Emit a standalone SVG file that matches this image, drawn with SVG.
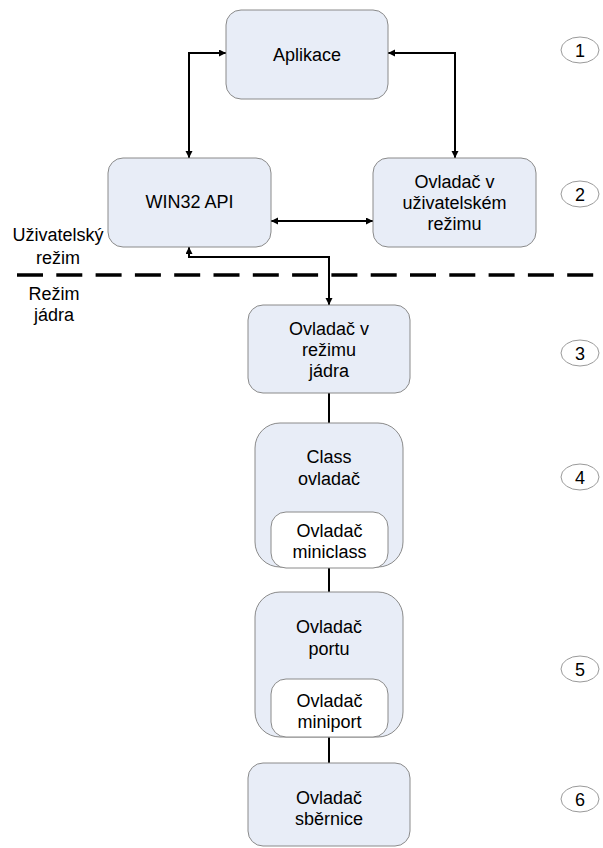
<svg xmlns="http://www.w3.org/2000/svg" width="603" height="848" viewBox="0 0 603 848">
<defs>
<marker id="ah" markerUnits="userSpaceOnUse" markerWidth="8" markerHeight="8" refX="7" refY="3.5" orient="auto-start-reverse">
<path d="M0,0 L7,3.5 L0,7 z" fill="#000"/>
</marker>
<style>
.box{fill:#e8edf7;stroke:#8a8a8a;stroke-width:1}
.inner{fill:#ffffff;stroke:#8a8a8a;stroke-width:1}
.t{font-family:"Liberation Sans",Arial,sans-serif;font-size:18px;fill:#000;text-anchor:middle}
.c{fill:#fff;stroke:#9a9a9a;stroke-width:1}
.ln{fill:none;stroke:#000;stroke-width:2}
</style>
</defs>
<rect width="603" height="848" fill="#fff"/>

<line x1="17" y1="275" x2="603" y2="275" stroke="#000" stroke-width="3.5" stroke-dasharray="26 13.3"/>

<g id="connectors">
<path class="ln" d="M189,158 V53 H226" marker-start="url(#ah)" marker-end="url(#ah)"/>
<path class="ln" d="M388,53 H455 V158" marker-start="url(#ah)" marker-end="url(#ah)"/>
<path class="ln" d="M271,221 H373" marker-start="url(#ah)" marker-end="url(#ah)"/>
<path class="ln" d="M189,247 V257 H329 V305" marker-start="url(#ah)" marker-end="url(#ah)"/>
<path class="ln" d="M329,393 V423"/>
<path class="ln" d="M329,567 V592"/>
<path class="ln" d="M329,737 V763"/>
</g>

<g id="aplikace">
<rect class="box" x="226" y="10" width="162" height="89" rx="15"/>
<text class="t" x="307" y="61">Aplikace</text>
</g>
<g id="win32">
<rect class="box" x="108" y="158" width="163" height="89" rx="15"/>
<text class="t" x="189.5" y="208">WIN32 API</text>
</g>
<g id="user-driver">
<rect class="box" x="373" y="158" width="163" height="89" rx="15"/>
<text class="t" x="454.5" y="188">Ovladač v</text>
<text class="t" x="454.5" y="209">uživatelském</text>
<text class="t" x="454.5" y="230">režimu</text>
</g>
<g id="kernel-driver">
<rect class="box" x="248" y="305" width="162" height="88" rx="15"/>
<text class="t" x="329" y="335">Ovladač v</text>
<text class="t" x="329" y="356">režimu</text>
<text class="t" x="329" y="377">jádra</text>
</g>
<g id="class-driver">
<rect class="box" x="255" y="423" width="148" height="144" rx="25"/>
<text class="t" x="329" y="463">Class</text>
<text class="t" x="329" y="485">ovladač</text>
<rect class="inner" x="271" y="512" width="117" height="56" rx="15"/>
<text class="t" x="329.5" y="537">Ovladač</text>
<text class="t" x="329.5" y="558">miniclass</text>
</g>
<g id="port-driver">
<rect class="box" x="255" y="592" width="148" height="145" rx="25"/>
<text class="t" x="329" y="633">Ovladač</text>
<text class="t" x="329" y="655">portu</text>
<rect class="inner" x="271" y="679" width="117" height="58" rx="15"/>
<text class="t" x="329.5" y="707">Ovladač</text>
<text class="t" x="329.5" y="728">miniport</text>
</g>
<g id="bus-driver">
<rect class="box" x="248" y="763" width="162" height="83" rx="15"/>
<text class="t" x="329" y="804">Ovladač</text>
<text class="t" x="329" y="825">sběrnice</text>
</g>

<g id="labels">
<text class="t" x="58" y="241">Uživatelský</text>
<text class="t" x="58" y="264">režim</text>
<text class="t" x="54" y="300">Režim</text>
<text class="t" x="54" y="321">jádra</text>
</g>

<g id="num1"><ellipse class="c" cx="580" cy="50" rx="19" ry="13"/><text class="t" x="580" y="56.5">1</text></g>
<g id="num2"><ellipse class="c" cx="580" cy="194" rx="19" ry="13"/><text class="t" x="580" y="200.5">2</text></g>
<g id="num3"><ellipse class="c" cx="580" cy="353" rx="19" ry="13"/><text class="t" x="580" y="359.5">3</text></g>
<g id="num4"><ellipse class="c" cx="580" cy="477" rx="19" ry="13"/><text class="t" x="580" y="483.5">4</text></g>
<g id="num5"><ellipse class="c" cx="580" cy="669" rx="19" ry="13"/><text class="t" x="580" y="675.5">5</text></g>
<g id="num6"><ellipse class="c" cx="580" cy="799" rx="19" ry="13"/><text class="t" x="580" y="805.5">6</text></g>
</svg>
